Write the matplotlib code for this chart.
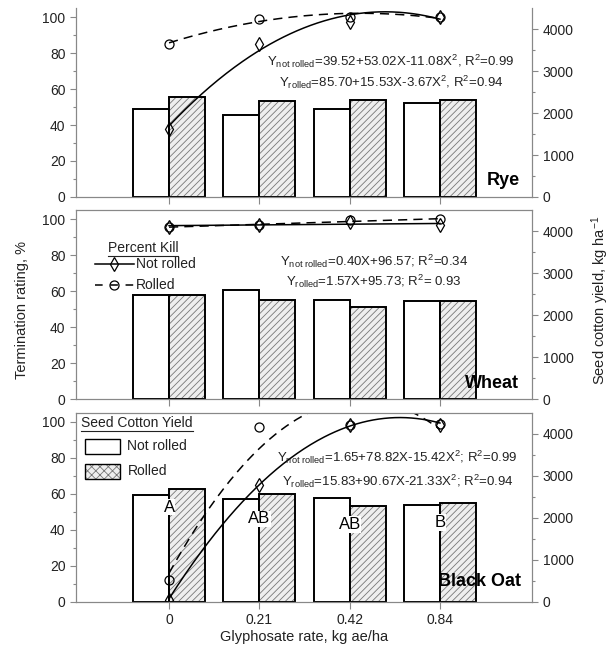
import numpy as np
import matplotlib
matplotlib.use("Agg")
import matplotlib.pyplot as plt
from matplotlib.patches import Rectangle
from matplotlib.lines import Line2D

plt.rcParams['font.family'] = ['Liberation Sans', 'DejaVu Sans']
plt.rcParams['mathtext.fontset'] = 'custom'
plt.rcParams['mathtext.rm'] = 'Liberation Sans'
plt.rcParams['mathtext.it'] = 'Liberation Sans:italic'
plt.rcParams['hatch.linewidth'] = 0.6

rates = ["0", "0.21", "0.42", "0.84"]
crops = ["Rye", "Wheat", "Black Oat"]

# seed cotton yield, kg/ha (bars, right axis)
rye_yield_nr = [2100, 1960, 2090, 2250]
rye_yield_r = [2390, 2285, 2315, 2320]
wheat_yield_nr = [2490, 2610, 2360, 2350]
wheat_yield_r = [2490, 2360, 2210, 2350]
oat_yield_nr = [2550, 2435, 2480, 2305]
oat_yield_r = [2690, 2570, 2270, 2350]

# percent kill (points, left axis)
rye_kill_nr = [38, 85, 97.5, 100]
rye_kill_r = [85, 99, 100, 100]
wheat_kill_nr = [96, 96.8, 98.5, 96.8]
wheat_kill_r = [96, 97, 99.5, 100.3]
oat_kill_nr = [1, 65, 98, 98]
oat_kill_r = [12, 97, 98, 99]

# regression coefficients as printed: c0 + c1*X + c2*X^2
rye_fit_nr = [39.52, 53.02, -11.08]
rye_fit_r = [85.70, 15.53, -3.67]
wheat_fit_nr = [96.57, 0.40, 0.0]
wheat_fit_r = [95.73, 1.57, 0.0]
oat_fit_nr = [1.65, 78.82, -15.42]
oat_fit_r = [15.83, 90.67, -21.33]

rye_eqs = [r"Y$_{\mathrm{not\ rolled}}$=39.52+53.02X-11.08X$^{\mathrm{2}}$, R$^{\mathrm{2}}$=0.99",
           r"Y$_{\mathrm{rolled}}$=85.70+15.53X-3.67X$^{\mathrm{2}}$, R$^{\mathrm{2}}$=0.94"]
wheat_eqs = [r"Y$_{\mathrm{not\ rolled}}$=0.40X+96.57; R$^{\mathrm{2}}$=0.34",
             r"Y$_{\mathrm{rolled}}$=1.57X+95.73; R$^{\mathrm{2}}$= 0.93"]
oat_eqs = [r"Y$_{\mathrm{not\ rolled}}$=1.65+78.82X-15.42X$^{\mathrm{2}}$; R$^{\mathrm{2}}$=0.99",
           r"Y$_{\mathrm{rolled}}$=15.83+90.67X-21.33X$^{\mathrm{2}}$; R$^{\mathrm{2}}$=0.94"]

oat_letters = ["A", "AB", "AB", "B"]
oat_letter_y = [52.5, 46, 43, 44]

panels = [
    ("Rye", rye_yield_nr, rye_yield_r, rye_kill_nr, rye_kill_r, rye_fit_nr, rye_fit_r, rye_eqs,
     (2.46, 75.5, 63.5), (3.89, 9)),
    ("Wheat", wheat_yield_nr, wheat_yield_r, wheat_kill_nr, wheat_kill_r, wheat_fit_nr, wheat_fit_r, wheat_eqs,
     (2.27, 76.9, 65.7), (3.88, 9)),
    ("Black Oat", oat_yield_nr, oat_yield_r, oat_kill_nr, oat_kill_r, oat_fit_nr, oat_fit_r, oat_eqs,
     (2.53, 80, 67), (3.9, 11)),
]

W, H = 613, 649
fig = plt.figure(figsize=(W / 100, H / 100), dpi=100)
bottoms = [0.6965, 0.3847, 0.0729]
gray = "#888888"
txt = "#222222"
x = np.arange(len(rates))
xs = np.linspace(0, 3, 200)
axes = []

for i, (name, ynr, yr, knr, kr, fnr, fr, eqs, eqpos, namepos) in enumerate(panels):
    ax = fig.add_axes([0.124, bottoms[i], 0.744, 0.291])
    ax2 = ax.twinx()
    ax.set_zorder(ax2.get_zorder() + 1)
    ax.patch.set_visible(False)

    # bars
    ax2.bar(x - 0.2, ynr, 0.4, facecolor="white", edgecolor="black", lw=1.4)
    ax2.bar(x + 0.2, yr, 0.4, facecolor="#eeeeee", edgecolor="#777777", hatch="/////", lw=0)
    ax2.bar(x + 0.2, yr, 0.4, facecolor="none", edgecolor="black", lw=1.4)

    # regression curves + points
    ax.plot(xs, fnr[0] + fnr[1] * xs + fnr[2] * xs ** 2, color="black", lw=1.1)
    ax.plot(xs, fr[0] + fr[1] * xs + fr[2] * xs ** 2, color="black", lw=1.1, dashes=(6, 4))
    ax.plot(x, knr, ls="none", marker="d", ms=7, mfc="none", mec="black", mew=0.9)
    ax.plot(x, kr, ls="none", marker="o", ms=6.5, mfc="none", mec="black", mew=0.9)

    ax.set_xlim(-1.03, 4.02)
    ax.set_ylim(0, 105)
    ax2.set_ylim(0, 4500)
    ax.set_yticks(np.arange(0, 101, 20))
    ax.set_yticks(np.arange(10, 101, 20), minor=True)
    ax2.set_yticks(np.arange(0, 4001, 1000))
    ax2.set_yticks(np.arange(500, 4500, 1000), minor=True)
    ax.set_xticks(x)
    if i == 2:
        ax.set_xticklabels(rates, fontsize=10, color=txt)
    else:
        ax.set_xticklabels([])
    for a in (ax, ax2):
        a.tick_params(axis="both", which="major", length=4, width=0.8, color=gray,
                      labelsize=10, labelcolor=txt)
        a.tick_params(axis="y", which="minor", length=2.5, width=0.8, color=gray)
        a.tick_params(axis="x", length=5)
        for s in a.spines.values():
            s.set_color(gray)
            s.set_linewidth(0.8)
    if i == 0:
        ax.spines["top"].set_visible(False)
        ax2.spines["top"].set_visible(False)

    ax.text(eqpos[0], eqpos[1], eqs[0], ha="center", va="center", fontsize=9.5, color=txt)
    ax.text(eqpos[0], eqpos[2], eqs[1], ha="center", va="center", fontsize=9.5, color=txt)
    ax.text(namepos[0], namepos[1], name, ha="right", va="center", fontsize=13,
            fontweight="bold", color="black")
    axes.append(ax)

# significance letters on black oat
ax3 = axes[2]
for xi, lab, ly in zip(x, oat_letters, oat_letter_y):
    ax3.text(xi, ly, lab, ha="center", va="center", fontsize=12, color="black",
             bbox=dict(facecolor="white", edgecolor="none", pad=0.5))

# Percent Kill legend (wheat panel)
ax = axes[1]
t1 = ax.text(-0.68, 84, "Percent Kill", ha="left", va="center", fontsize=10, color=txt)
ax.add_line(Line2D([-0.82, -0.39], [75.5, 75.5], color="black", lw=1.1))
ax.plot([-0.605], [75.5], ls="none", marker="d", ms=7, mfc="none", mec="black", mew=0.9)
ax.add_line(Line2D([-0.82, -0.39], [63.5, 63.5], color="black", lw=1.1, dashes=(5, 5)))
ax.plot([-0.605], [63.5], ls="none", marker="o", ms=6.5, mfc="none", mec="black", mew=0.9)
ax.text(-0.37, 75.5, "Not rolled", ha="left", va="center", fontsize=10, color=txt)
ax.text(-0.37, 63.5, "Rolled", ha="left", va="center", fontsize=10, color=txt)

# Seed Cotton Yield legend (black oat panel)
ax = axes[2]
t2 = ax.text(-0.97, 99.5, "Seed Cotton Yield", ha="left", va="center", fontsize=10, color=txt)
ax.add_patch(Rectangle((-0.93, 82.1), 0.385, 8.3, facecolor="white", edgecolor="black", lw=1.0))
ax.add_patch(Rectangle((-0.93, 68.3), 0.385, 8.3, facecolor="#eeeeee", edgecolor="#777777",
                       hatch="xxxx", lw=0))
ax.add_patch(Rectangle((-0.93, 68.3), 0.385, 8.3, facecolor="none", edgecolor="black", lw=1.0))
ax.text(-0.46, 86.3, "Not rolled", ha="left", va="center", fontsize=10, color=txt)
ax.text(-0.46, 72.5, "Rolled", ha="left", va="center", fontsize=10, color=txt)

# underline legend titles
fig.canvas.draw()
inv = fig.transFigure.inverted()
for t in (t1, t2):
    bb = t.get_window_extent()
    (x0, y0), (x1, _) = inv.transform([(bb.x0, bb.y0 - 1), (bb.x1, bb.y0 - 1)])
    fig.add_artist(Line2D([x0, x1], [y0, y0], color=txt, lw=0.8, transform=fig.transFigure))

fig.text(22 / W, 1 - 310 / H, "Termination rating, %", rotation=90, ha="center", va="center",
         fontsize=10.5, color=txt)
fig.text(600 / W, 1 - 300 / H, r"Seed cotton yield, kg ha$^{\mathrm{-1}}$", rotation=90,
         ha="center", va="center", fontsize=10.5, color=txt)
fig.text(304 / W, 1 - 637 / H, "Glyphosate rate, kg ae/ha", ha="center", va="center",
         fontsize=10.5, color=txt)

fig.savefig("out.png", dpi=100, facecolor="white")
